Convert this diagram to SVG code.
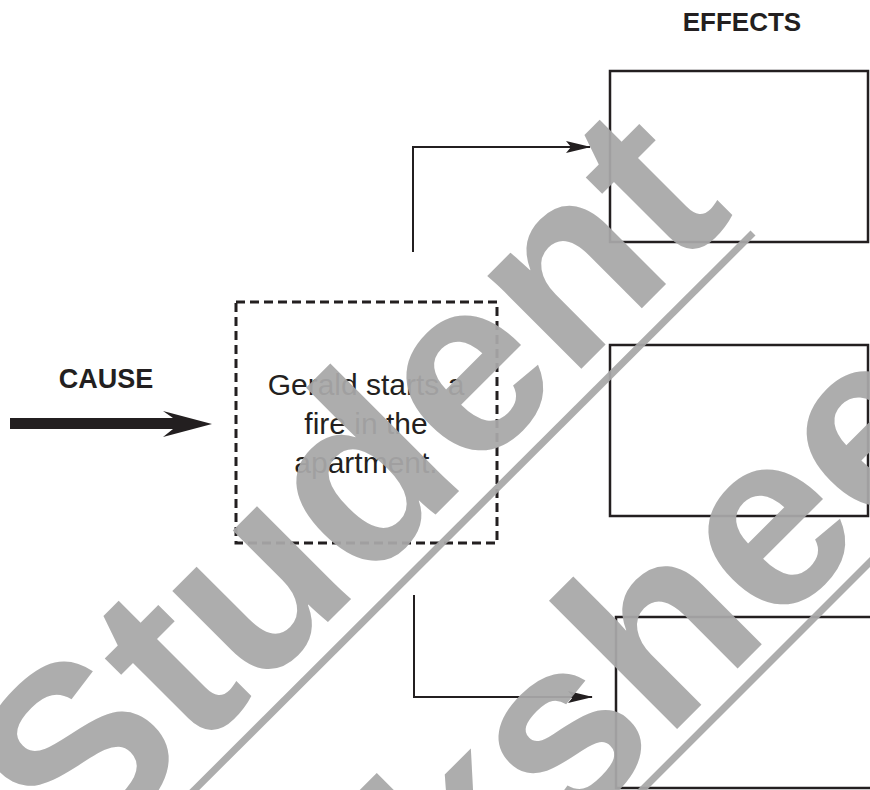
<svg xmlns="http://www.w3.org/2000/svg" width="870" height="790" viewBox="0 0 870 790">
<style>
.lbl{font-family:"Liberation Sans",Arial,sans-serif;font-weight:bold;fill:#231f20;text-anchor:middle}
.body{font-family:"Liberation Sans",Arial,sans-serif;fill:#231f20;text-anchor:middle;font-size:30px}
.box{fill:none;stroke:#231f20;stroke-width:2.5}
.dash{fill:none;stroke:#231f20;stroke-width:3;stroke-dasharray:9 5}
.conn{fill:none;stroke:#231f20;stroke-width:2}
.wm{font-family:"Liberation Sans",Arial,sans-serif;font-weight:bold;font-size:250px;fill:#a8a8a8;fill-opacity:0.94;text-anchor:middle}
.wml{stroke:#a8a8a8;stroke-opacity:0.94;stroke-width:7}
</style>
<defs>
<marker id="ah" markerUnits="userSpaceOnUse" markerWidth="26" markerHeight="12" refX="24" refY="6" orient="auto">
<path d="M0,0 L25,6 L0,12 L5,6 z" fill="#231f20"/>
</marker>
</defs>
<rect width="870" height="790" fill="#fff"/>
<text class="lbl" x="742" y="31" font-size="26">EFFECTS</text>
<text class="lbl" x="106" y="388" font-size="27">CAUSE</text>
<polygon points="10,418 173,418 163,411 212,424 163,437 173,429 10,429" fill="#231f20"/>
<g id="cause">
<rect class="dash" x="236" y="302" width="261" height="241"/>
<text class="body" x="366" y="395">Gerald starts a</text>
<text class="body" x="366" y="434">fire in the</text>
<text class="body" x="366" y="473">apartment.</text>
</g>
<g id="effect1"><rect class="box" x="610" y="71" width="258" height="171"/></g>
<g id="effect2"><rect class="box" x="610" y="345" width="258" height="171"/></g>
<g id="effect3"><rect class="box" x="616" y="617" width="262" height="171"/></g>
<g id="connectors">
<path class="conn" d="M413,252 V147 H590" marker-end="url(#ah)"/>
<path class="conn" d="M414,595 V697 H592" marker-end="url(#ah)"/>
</g>
<g id="watermark">
<text class="wm" transform="translate(407,543) rotate(-45)">Student</text>
<text class="wm" transform="translate(578,828) rotate(-45)">Worksheet</text>
<line class="wml" x1="95" y1="889" x2="753" y2="233"/>
<line class="wml" x1="140" y1="1292" x2="1043" y2="389"/>
</g>
</svg>
